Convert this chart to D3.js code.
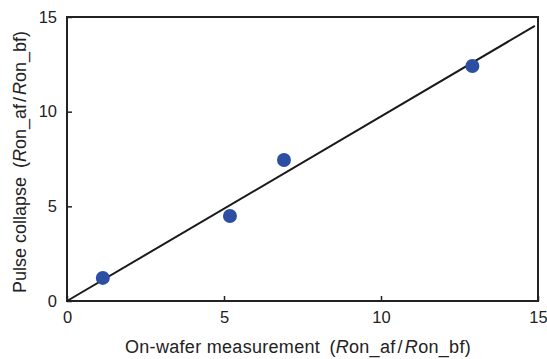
<!DOCTYPE html>
<html><head><meta charset="utf-8">
<script src="https://cdn.jsdelivr.net/npm/d3@7"></script>
<style>body{margin:0;background:#fff}svg{display:block}text{font-family:"Liberation Sans",Arial,sans-serif;fill:#222}</style>
</head><body><svg id="c" width="547" height="359"></svg>
<script>
const xVals = [1.14, 5.19, 6.91, 12.91];
const yVals = [1.22, 4.49, 7.45, 12.41];
const fitLine = [[0, 0], [14.9, 14.53]];
const ticks = [0, 5, 10, 15];

const svg = d3.select("#c");
const m = {l: 67, r: 538, t: 17, b: 301};
const x = d3.scaleLinear().domain([0, 15]).range([m.l, m.r]);
const y = d3.scaleLinear().domain([0, 15]).range([m.b, m.t]);

svg.append("g").attr("transform", `translate(0,${m.b})`)
  .call(d3.axisBottom(x).tickValues(ticks).tickSize(-5).tickPadding(10))
  .call(g => { g.select(".domain").remove(); g.selectAll("line").attr("stroke", "#222").attr("stroke-width", 1.5);
    g.selectAll("text").attr("font-size", 16.5).attr("fill", "#222"); });
svg.append("g").attr("transform", `translate(${m.l},0)`)
  .call(d3.axisLeft(y).tickValues(ticks).tickSize(-5).tickPadding(10))
  .call(g => { g.select(".domain").remove(); g.selectAll("line").attr("stroke", "#222").attr("stroke-width", 1.5);
    g.selectAll("text").attr("font-size", 16.5).attr("fill", "#222"); });

svg.append("rect").attr("x", m.l).attr("y", m.t).attr("width", m.r - m.l).attr("height", m.b - m.t)
  .attr("fill", "none").attr("stroke", "#222").attr("stroke-width", 2);

svg.append("line").attr("x1", x(fitLine[0][0])).attr("y1", y(fitLine[0][1]))
  .attr("x2", x(fitLine[1][0])).attr("y2", y(fitLine[1][1]))
  .attr("stroke", "#1a1a1a").attr("stroke-width", 2);

svg.selectAll("circle.p").data(xVals).join("circle").attr("class", "p")
  .attr("cx", d => x(d)).attr("cy", (d, i) => y(yVals[i])).attr("r", 7)
  .attr("fill", "#2c4ea3");

function title(t) {
  t.append("tspan").attr("dx", 4).text("(");
  t.append("tspan").attr("font-style", "italic").text("R");
  t.append("tspan").text("on_af");
  t.append("tspan").attr("dx", 2).text("/");
  t.append("tspan").attr("dx", 2).attr("font-style", "italic").text("R");
  t.append("tspan").text("on_bf)");
}
const xt = svg.append("text").attr("x", 298).attr("y", 353).attr("text-anchor", "middle")
  .attr("font-size", 18).attr("letter-spacing", 0.3);
xt.append("tspan").text("On-wafer measurement ");
title(xt);
const yt = svg.append("text").attr("transform", "translate(26,162) rotate(-90)").attr("text-anchor", "middle").attr("font-size", 18);
yt.append("tspan").text("Pulse collapse ");
title(yt);
</script></body></html>
